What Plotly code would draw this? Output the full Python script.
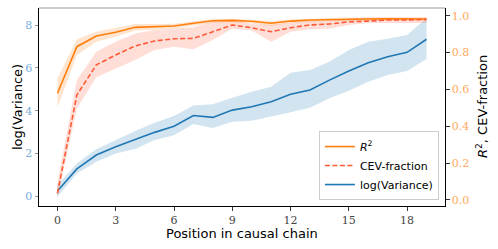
import plotly.graph_objects as go

position = list(range(20))

log_var = [0.25, 1.28, 1.93, 2.32, 2.66, 2.99, 3.28, 3.78, 3.69, 4.03,
           4.19, 4.42, 4.77, 4.97, 5.43, 5.86, 6.24, 6.52, 6.73, 7.34]
log_var_hi = [0.53, 1.54, 2.20, 2.63, 3.05, 3.44, 3.75, 4.25, 4.30, 4.61,
              4.89, 5.12, 5.78, 5.90, 6.29, 6.84, 7.22, 7.36, 7.54, 8.32]
log_var_lo = [-0.02, 1.07, 1.62, 2.00, 2.21, 2.63, 2.86, 3.38, 3.19, 3.49,
              3.53, 3.72, 3.93, 4.14, 4.58, 4.93, 5.36, 5.67, 5.86, 6.42]

r2 = [0.579, 0.832, 0.890, 0.910, 0.937, 0.940, 0.944, 0.959, 0.973, 0.975,
      0.970, 0.959, 0.971, 0.977, 0.980, 0.982, 0.982, 0.983, 0.983, 0.982]
r2_hi = [0.660, 0.872, 0.913, 0.932, 0.955, 0.955, 0.957, 0.970, 0.982, 0.984,
         0.980, 0.972, 0.980, 0.985, 0.988, 0.990, 0.990, 0.991, 0.991, 0.990]
r2_lo = [0.500, 0.787, 0.859, 0.886, 0.920, 0.925, 0.930, 0.946, 0.962, 0.965,
         0.958, 0.944, 0.960, 0.968, 0.972, 0.974, 0.974, 0.975, 0.975, 0.974]

cev = [0.036, 0.570, 0.733, 0.787, 0.836, 0.863, 0.875, 0.877, 0.913, 0.950,
       0.935, 0.913, 0.935, 0.950, 0.955, 0.967, 0.971, 0.977, 0.977, 0.980]
cev_hi = [0.100, 0.651, 0.805, 0.859, 0.904, 0.922, 0.930, 0.937, 0.968, 0.976,
          0.955, 0.950, 0.962, 0.973, 0.973, 0.985, 0.990, 0.990, 0.990, 0.990]
cev_lo = [0.010, 0.497, 0.666, 0.715, 0.760, 0.814, 0.832, 0.818, 0.868, 0.931,
          0.920, 0.859, 0.913, 0.926, 0.930, 0.950, 0.960, 0.960, 0.960, 0.960]

BLUE = "#1f77b4"
ORANGE = "#ff7f0e"
TOMATO = "#ff5a36"
SERIF = "DejaVu Serif"
SANS = "DejaVu Sans"


def band(x, lo, hi, color, yaxis):
    return [
        go.Scatter(x=x, y=hi, mode="lines", line=dict(width=0), yaxis=yaxis,
                   showlegend=False, hoverinfo="skip"),
        go.Scatter(x=x, y=lo, mode="lines", line=dict(width=0), yaxis=yaxis,
                   fill="tonexty", fillcolor=color, showlegend=False, hoverinfo="skip"),
    ]


fig = go.Figure()

for t in band(position, log_var_lo, log_var_hi, "rgba(31,119,180,0.2)", "y"):
    fig.add_trace(t)
for t in band(position, r2_lo, r2_hi, "rgba(255,127,14,0.2)", "y2"):
    fig.add_trace(t)
for t in band(position, cev_lo, cev_hi, "rgba(255,90,54,0.2)", "y2"):
    fig.add_trace(t)

fig.add_trace(go.Scatter(x=position, y=r2, name="<i>R</i><sup>2</sup>", mode="lines",
                         line=dict(color=ORANGE, width=1.6), yaxis="y2"))
fig.add_trace(go.Scatter(x=position, y=cev, name="CEV-fraction", mode="lines",
                         line=dict(color=TOMATO, width=1.6, dash="5px,2.5px"), yaxis="y2"))
fig.add_trace(go.Scatter(x=position, y=log_var, name="log(Variance)", mode="lines",
                         line=dict(color=BLUE, width=1.6), yaxis="y"))

# top spine is grey in the reference
fig.add_shape(type="line", xref="paper", yref="paper", x0=0, x1=1, y0=1, y1=1,
              line=dict(color="#999999", width=1))

# axis titles placed as annotations so they sit where the reference has them
title_font = dict(family=SANS, size=13, color="black")
fig.add_annotation(text="Position in causal chain", xref="paper", yref="paper",
                   x=0.5, y=0, yanchor="middle", yshift=-27, showarrow=False,
                   font=title_font)
fig.add_annotation(text="log(Variance)", xref="paper", yref="paper",
                   x=0, y=0.5, xanchor="center", xshift=-22, textangle=-90,
                   showarrow=False, font=title_font)
fig.add_annotation(text="<i>R</i><sup>2</sup>, CEV-fraction", xref="paper", yref="paper",
                   x=1, y=0.5, xanchor="center", xshift=37, textangle=-90,
                   showarrow=False, font=title_font)

fig.update_layout(
    width=498,
    height=249,
    margin=dict(l=39, r=53, t=8, b=43),
    plot_bgcolor="white",
    paper_bgcolor="white",
    xaxis=dict(
        range=[-0.95, 19.95],
        tickvals=[0, 3, 6, 9, 12, 15, 18],
        ticks="outside", ticklen=3.5, tickcolor="#333333",
        showline=True, linecolor="black", linewidth=1,
        showgrid=False, zeroline=False,
        tickfont=dict(family=SERIF, size=11, color="#444444"),
    ),
    yaxis=dict(
        range=[-0.45, 8.8],
        tickvals=[0, 2, 4, 6, 8],
        ticks="outside", ticklen=3.5, tickcolor="#999999",
        showline=True, linecolor="black", linewidth=1,
        showgrid=False, zeroline=False,
        tickfont=dict(family=SERIF, size=11, color="#7aaedb"),
    ),
    yaxis2=dict(
        range=[-0.033, 1.042],
        tickvals=[0.0, 0.2, 0.4, 0.6, 0.8, 1.0],
        tickformat=".1f",
        overlaying="y", side="right",
        ticks="outside", ticklen=3.5, tickcolor="#333333",
        showline=True, linecolor="black", linewidth=1,
        showgrid=False, zeroline=False,
        tickfont=dict(family=SERIF, size=11, color="#ffaa5c"),
    ),
    legend=dict(
        x=0.985, y=0.03, xanchor="right", yanchor="bottom",
        traceorder="normal",
        bgcolor="rgba(255,255,255,0.85)", bordercolor="#cccccc", borderwidth=1,
        font=dict(family=SANS, size=11, color="black"),
        tracegroupgap=0, itemwidth=30,
    ),
    showlegend=True,
)

# drop the browser's default 8px body margin so the figure fills the window
fig.write_html("out.html", config={"displayModeBar": False},
               post_script="document.body.style.margin='0';")
